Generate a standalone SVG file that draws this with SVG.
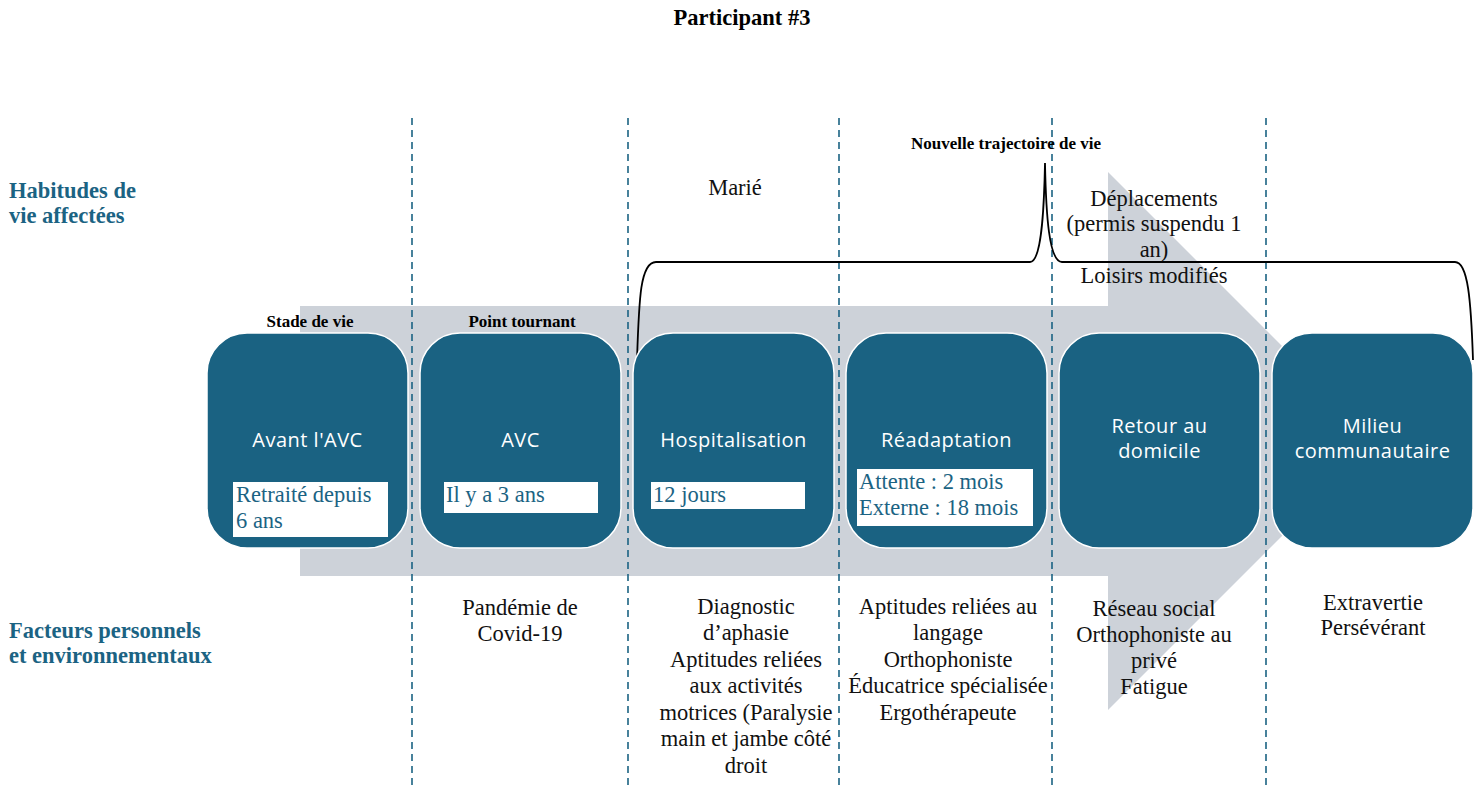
<svg xmlns="http://www.w3.org/2000/svg" width="1479" height="785" viewBox="0 0 1479 785">
  <style>
    .title { font-family: "Liberation Serif", "Times New Roman", serif; font-weight: bold; font-size: 22.5px; fill: #000; }
    .small-head { font-family: "Liberation Serif", "Times New Roman", serif; font-weight: bold; font-size: 17px; fill: #000; text-anchor: middle; }
    .row-head { font-family: "Liberation Serif", "Times New Roman", serif; font-weight: bold; font-size: 22.5px; fill: #1b6383; }
    .body { font-family: "Liberation Serif", "Times New Roman", serif; font-size: 22.5px; fill: #111; text-anchor: middle; }
    .stage { fill: #1a6282; stroke: #ffffff; stroke-width: 1.5; }
    .stage-label { font-family: "Open Sans", "Noto Sans", sans-serif; font-size: 20px; letter-spacing: 0.5px; fill: #ffffff; text-anchor: middle; }
    .tag { fill: #ffffff; }
    .tag-text { font-family: "Liberation Serif", "Times New Roman", serif; font-size: 22.5px; fill: #1b6383; }
    .divider { stroke: #1b6383; stroke-width: 1.6; stroke-dasharray: 7 5; fill: none; }
    .brace { stroke: #000; stroke-width: 1.8; fill: none; }
  </style>

  <rect x="0" y="0" width="1479" height="785" fill="#ffffff"/>

  <!-- big timeline arrow in the background -->
  <polygon id="timeline-arrow" points="300,306 1108,306 1108,172 1377,441 1108,710 1108,576 300,576" fill="#cdd2d9"/>

  <!-- title -->
  <text class="title" x="742" y="25" text-anchor="middle">Participant #3</text>

  <!-- row headings -->
  <text class="row-head" x="9" y="198">Habitudes de</text>
  <text class="row-head" x="9" y="223">vie affectées</text>
  <text class="row-head" x="9" y="638">Facteurs personnels</text>
  <text class="row-head" x="9" y="663">et environnementaux</text>

  <!-- column dividers -->
  <g id="dividers">
    <line class="divider" x1="412" y1="118" x2="412" y2="785"/>
    <line class="divider" x1="628" y1="118" x2="628" y2="785"/>
    <line class="divider" x1="839" y1="118" x2="839" y2="785"/>
    <line class="divider" x1="1052" y1="118" x2="1052" y2="785"/>
    <line class="divider" x1="1266" y1="118" x2="1266" y2="785"/>
  </g>

  <!-- small headings -->
  <text class="small-head" x="310" y="327">Stade de vie</text>
  <text class="small-head" x="522" y="327">Point tournant</text>
  <text class="small-head" x="1006" y="149">Nouvelle trajectoire de vie</text>

  <!-- affected life habits -->
  <text class="body" x="735" y="195">Marié</text>
  <text class="body" x="1154" y="206">Déplacements</text>
  <text class="body" x="1154" y="231">(permis suspendu 1</text>
  <text class="body" x="1154" y="257">an)</text>
  <text class="body" x="1154" y="283">Loisirs modifiés</text>

  <!-- connectors: brace marking the new life trajectory -->
  <g id="connectors">
    <path class="brace" d="M637,360 C639,300 640,262 656,262 L1030,262 C1041,262 1044,215 1045,163 C1046,215 1049,262 1062,262 L1455,262 C1468,262 1471,300 1473,360"/>
  </g>

  <!-- stages -->
  <g id="stage-avant">
    <rect class="stage" x="207" y="333" width="201" height="215" rx="40"/>
    <text class="stage-label" x="307.5" y="447">Avant l'AVC</text>
    <rect class="tag" x="233" y="482" width="155" height="55"/>
    <text class="tag-text" x="236" y="502">Retraité depuis</text>
    <text class="tag-text" x="236" y="528">6 ans</text>
  </g>

  <g id="stage-avc">
    <rect class="stage" x="420" y="333" width="201" height="215" rx="40"/>
    <text class="stage-label" x="520.5" y="447">AVC</text>
    <rect class="tag" x="444" y="482" width="154" height="31"/>
    <text class="tag-text" x="446" y="502">Il y a 3 ans</text>
  </g>

  <g id="stage-hospitalisation">
    <rect class="stage" x="633" y="333" width="201" height="215" rx="40"/>
    <text class="stage-label" x="733.5" y="447">Hospitalisation</text>
    <rect class="tag" x="651" y="482" width="154" height="27"/>
    <text class="tag-text" x="653" y="502">12 jours</text>
  </g>

  <g id="stage-readaptation">
    <rect class="stage" x="846" y="333" width="201" height="215" rx="40"/>
    <text class="stage-label" x="946.5" y="447">Réadaptation</text>
    <rect class="tag" x="857" y="469" width="176" height="57"/>
    <text class="tag-text" x="859" y="489">Attente : 2 mois</text>
    <text class="tag-text" x="859" y="515">Externe : 18 mois</text>
  </g>

  <g id="stage-retour">
    <rect class="stage" x="1059" y="333" width="201" height="215" rx="40"/>
    <text class="stage-label" x="1159.5" y="433">Retour au</text>
    <text class="stage-label" x="1159.5" y="458">domicile</text>
  </g>

  <g id="stage-milieu">
    <rect class="stage" x="1272" y="333" width="201" height="215" rx="40"/>
    <text class="stage-label" x="1372.5" y="433">Milieu</text>
    <text class="stage-label" x="1372.5" y="458">communautaire</text>
  </g>

  <!-- personal and environmental factors -->
  <g id="factors">
    <text class="body" x="520" y="615">Pandémie de</text>
    <text class="body" x="520" y="641">Covid-19</text>

    <text class="body" x="746" y="614">Diagnostic</text>
    <text class="body" x="746" y="640">d’aphasie</text>
    <text class="body" x="746" y="667">Aptitudes reliées</text>
    <text class="body" x="746" y="693">aux activités</text>
    <text class="body" x="746" y="720">motrices (Paralysie</text>
    <text class="body" x="746" y="746">main et jambe côté</text>
    <text class="body" x="746" y="773">droit</text>

    <text class="body" x="948" y="614">Aptitudes reliées au</text>
    <text class="body" x="948" y="640">langage</text>
    <text class="body" x="948" y="667">Orthophoniste</text>
    <text class="body" x="948" y="693">Éducatrice spécialisée</text>
    <text class="body" x="948" y="720">Ergothérapeute</text>

    <text class="body" x="1154" y="616">Réseau social</text>
    <text class="body" x="1154" y="642">Orthophoniste au</text>
    <text class="body" x="1154" y="668">privé</text>
    <text class="body" x="1154" y="694">Fatigue</text>

    <text class="body" x="1373" y="610">Extravertie</text>
    <text class="body" x="1373" y="635">Persévérant</text>
  </g>
</svg>
